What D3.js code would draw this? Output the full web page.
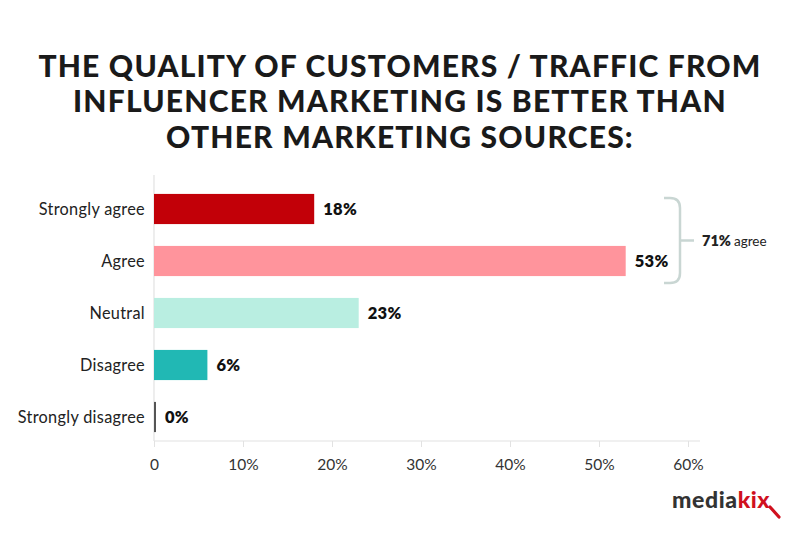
<!DOCTYPE html>
<html><head><meta charset="utf-8">
<script src="https://cdn.jsdelivr.net/npm/d3@7/dist/d3.min.js"></script>
<style>body{margin:0;background:#fff}svg{display:block}</style>
</head><body>
<svg id="c" width="800" height="533"></svg>
<script>
const titleLines = ["THE QUALITY OF CUSTOMERS / TRAFFIC FROM","INFLUENCER MARKETING IS BETTER THAN","OTHER MARKETING SOURCES:"];
const categories = ["Strongly agree","Agree","Neutral","Disagree","Strongly disagree"];
const values = [18,53,23,6,0];
const colors = ["#c20008","#ff949c","#b9eee1","#21b8b4","#555555"];
const xTicks = [0,10,20,30,40,50,60];
const agreeTotal = 71;
const agreeGroup = ["Strongly agree","Agree"];

const svg = d3.select("#c");
const font = "Lato, 'Open Sans', sans-serif";

// Title
const tb = [77,112,148];
titleLines.forEach((t,i)=>{
  svg.append("text").attr("x",400).attr("y",tb[i]).attr("text-anchor","middle")
    .attr("font-family",font).attr("font-weight",900).attr("font-size",30).attr("letter-spacing",1.2)
    .attr("fill","#1a1a1a").text(t);
});

const x = d3.scaleLinear().domain([0,60]).range([154,688]);
const y = d3.scaleBand().domain(categories).range([183,443]).paddingInner(0.42).paddingOuter(0.21);

// axes lines
svg.append("line").attr("x1",x(0)).attr("x2",x(0)).attr("y1",175).attr("y2",441).attr("stroke","#e2e2e2").attr("stroke-width",1.2);
const xa = svg.append("g").attr("transform","translate(0,441)")
  .call(d3.axisBottom(x).tickValues(xTicks).tickSize(6).tickPadding(12).tickFormat(d=>d===0?"0":d+"%"));
xa.select(".domain").attr("stroke","#e2e2e2").attr("stroke-width",1.2).attr("d",`M${x(0)},0H${x(60)+12}`);
xa.selectAll(".tick line").attr("stroke","#e2e2e2");
xa.selectAll(".tick text").attr("font-family",font).attr("font-size",15.5).attr("fill","#333");

// bars
const data = categories.map((c,i)=>({c,v:values[i],col:colors[i]}));
svg.selectAll("rect.bar").data(data).join("rect").attr("class","bar")
  .attr("x",x(0)).attr("y",d=>y(d.c)).attr("height",y.bandwidth())
  .attr("width",d=>Math.max(x(d.v)-x(0),2)).attr("fill",d=>d.col);

svg.selectAll("text.val").data(data).join("text").attr("class","val")
  .attr("x",d=>Math.max(x(d.v),x(0)+2)+9).attr("y",d=>y(d.c)+y.bandwidth()/2).attr("dy","0.36em")
  .attr("font-family",font).attr("font-weight",800).attr("font-size",16.5).attr("letter-spacing",0.3).attr("fill","#111")
  .text(d=>d.v+"%");

svg.selectAll("text.cat").data(data).join("text").attr("class","cat")
  .attr("x",145).attr("y",d=>y(d.c)+y.bandwidth()/2).attr("dy","0.36em").attr("text-anchor","end")
  .attr("font-family",font).attr("font-size",16.3).attr("letter-spacing",0.3).attr("fill","#222").text(d=>d.c);

// bracket
const by0 = y(agreeGroup[0])+4, by1 = y(agreeGroup[1])+y.bandwidth()+7;
const bx0 = 664, bx1 = 680, r = 10, bm = (by0+by1)/2;
svg.append("path").attr("fill","none").attr("stroke","#c9d6d3").attr("stroke-width",2.5)
  .attr("d",`M${bx0},${by0}H${bx1-r}Q${bx1},${by0} ${bx1},${by0+r}V${by1-r}Q${bx1},${by1} ${bx1-r},${by1}H${bx0}M${bx1},${bm}H${bx1+14}`);
const at = svg.append("text").attr("x",702).attr("y",bm).attr("dy","0.36em").attr("font-family",font).attr("fill","#222");
at.append("tspan").attr("font-weight",800).attr("font-size",14.5).text(agreeTotal+"%");
at.append("tspan").attr("font-size",13.5).attr("dx",3).text("agree");

// logo
const lg = svg.append("text").attr("x",672).attr("y",508).attr("font-family",font).attr("font-weight",900).attr("font-size",23).attr("letter-spacing",0.6);
lg.append("tspan").attr("fill","#333").text("media");
lg.append("tspan").attr("fill","#d0101e").text("kix");
svg.append("path").attr("fill","none").attr("stroke","#d0101e").attr("stroke-width",3.2).attr("stroke-linecap","round")
  .attr("d","M770,507L779,517");
</script>
</body></html>
